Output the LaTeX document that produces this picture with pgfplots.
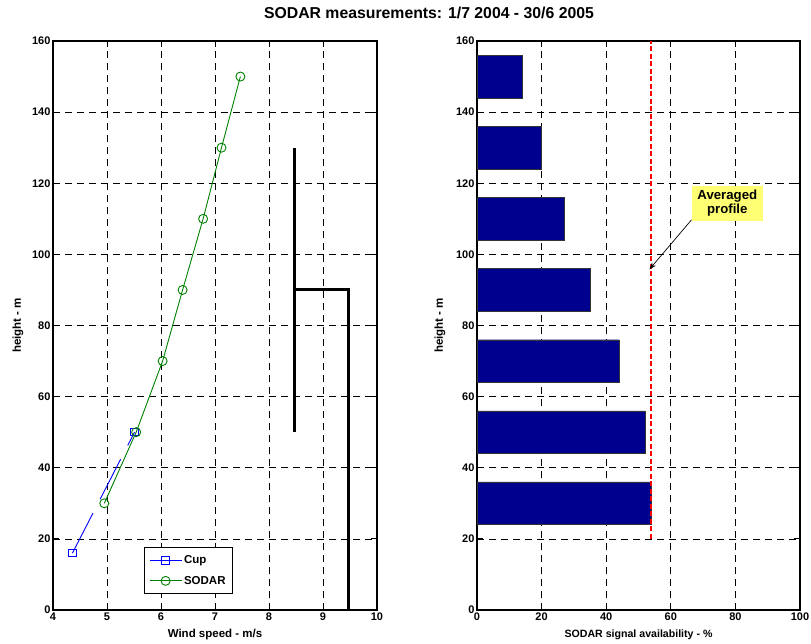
\documentclass[border=0pt]{standalone}
\usepackage{fontspec}
\setmainfont{Liberation Sans}
\usepackage{pgfplots}
\pgfplotsset{compat=1.18}
\usetikzlibrary{arrows.meta}
\definecolor{barblue}{rgb}{0,0,0.56}
\definecolor{cupblue}{rgb}{0,0,1}
\definecolor{sodargreen}{rgb}{0,0.5,0}
\definecolor{noteyellow}{rgb}{1,1,0.45}
\definecolor{avgred}{rgb}{1,0,0}
\pgfplotsset{
  myaxis/.style={
    scale only axis,
    height=569pt,
    ymin=0, ymax=160,
    ytick={0,20,...,160},
    grid=major,
    major grid style={black, line width=0.65pt, dash pattern=on 7pt off 5pt},
    tick align=inside,
    major tick length=6pt,
    tick style={black, line width=0.8pt},
    axis line style={line width=1.2pt},
    /pgf/number format/assume math mode=true,
    tick label style={font=\bfseries\fontsize{11}{13}\selectfont},
    label style={font=\bfseries\fontsize{11.5}{13}\selectfont},
    xlabel style={at={(axis description cs:0.5,0)}, yshift=-24.5pt, anchor=center},
    ylabel style={at={(axis description cs:-0.108,0.5)}, anchor=center},
    xticklabel style={yshift=1pt},
    yticklabel style={xshift=1pt},
  }
}
\begin{document}
\begin{tikzpicture}
\useasboundingbox (0,0) rectangle (811pt,643pt);
\node[font=\bfseries\fontsize{15.8}{17}\selectfont] at (429pt,630pt) {SODAR measurements: 1/7 2004 - 30/6 2005};
\begin{axis}[myaxis,
  at={(53pt,33pt)}, anchor=south west,
  width=324pt,
  xmin=4, xmax=10,
  xtick={4,5,...,10},
  xlabel={Wind speed - m/s},
  ylabel={height - m},
  legend cell align=left,
  legend style={at={(axis description cs:0.28,0.028)}, anchor=south west,
    draw=black, line width=0.9pt, font=\bfseries\fontsize{11.5}{13}\selectfont,
    inner xsep=5pt, inner ysep=6pt, row sep=7pt},
  legend image code/.code={\draw[mark repeat=2,mark phase=2] plot coordinates {(0pt,0pt)(16pt,0pt)(32pt,0pt)};},
]
\addplot[cupblue, line width=0.9pt, dash pattern=on 45pt off 15.5pt,
  mark=square, mark size=3.7pt, mark options={solid, line width=0.9pt}]
  coordinates {(4.36,16) (5.51,50)};
\addlegendentry{Cup}
\addplot[sodargreen, line width=0.9pt,
  mark=o, mark size=4.5pt, mark options={solid, line width=0.9pt}]
  coordinates {(4.95,30) (5.54,50) (6.03,70) (6.40,90) (6.78,110) (7.12,130) (7.47,150)};
\addlegendentry{SODAR}
\addplot[black, line width=3pt, forget plot] coordinates {(8.47,50) (8.47,130)};
\addplot[black, line width=3pt, forget plot] coordinates {(8.47,90) (9.47,90) (9.47,0)};
\end{axis}
\begin{axis}[myaxis,
  at={(477pt,33pt)}, anchor=south west,
  width=323pt,
  xmin=0, xmax=100,
  xtick={0,20,...,100},
  xlabel={SODAR signal availability - \%},
  xlabel style={font=\bfseries\fontsize{10.6}{12}\selectfont},
  ylabel={height - m},
  ylabel style={at={(axis description cs:-0.115,0.5)}},
]
\addplot[xbar, bar width=12, fill=barblue, draw=black!80, line width=0.4pt]
  coordinates {(54,30) (52,50) (44,70) (35,90) (27,110) (20,130) (14,150)};
\addplot[avgred, line width=2pt, dash pattern=on 5pt off 2.5pt]
  coordinates {(54,20) (54,160)};
\draw[black, line width=0.7pt, -{Stealth[length=7pt,width=5pt]}] (axis cs:66.4,109.7) -- (axis cs:53.4,95.8);
\node[fill=noteyellow, minimum width=71pt, minimum height=35pt, inner sep=1pt, align=center,
  font=\bfseries\fontsize{13.2}{14.5}\selectfont] at (axis cs:77.5,114.4) {Averaged\\profile};
\end{axis}
\end{tikzpicture}
\end{document}
